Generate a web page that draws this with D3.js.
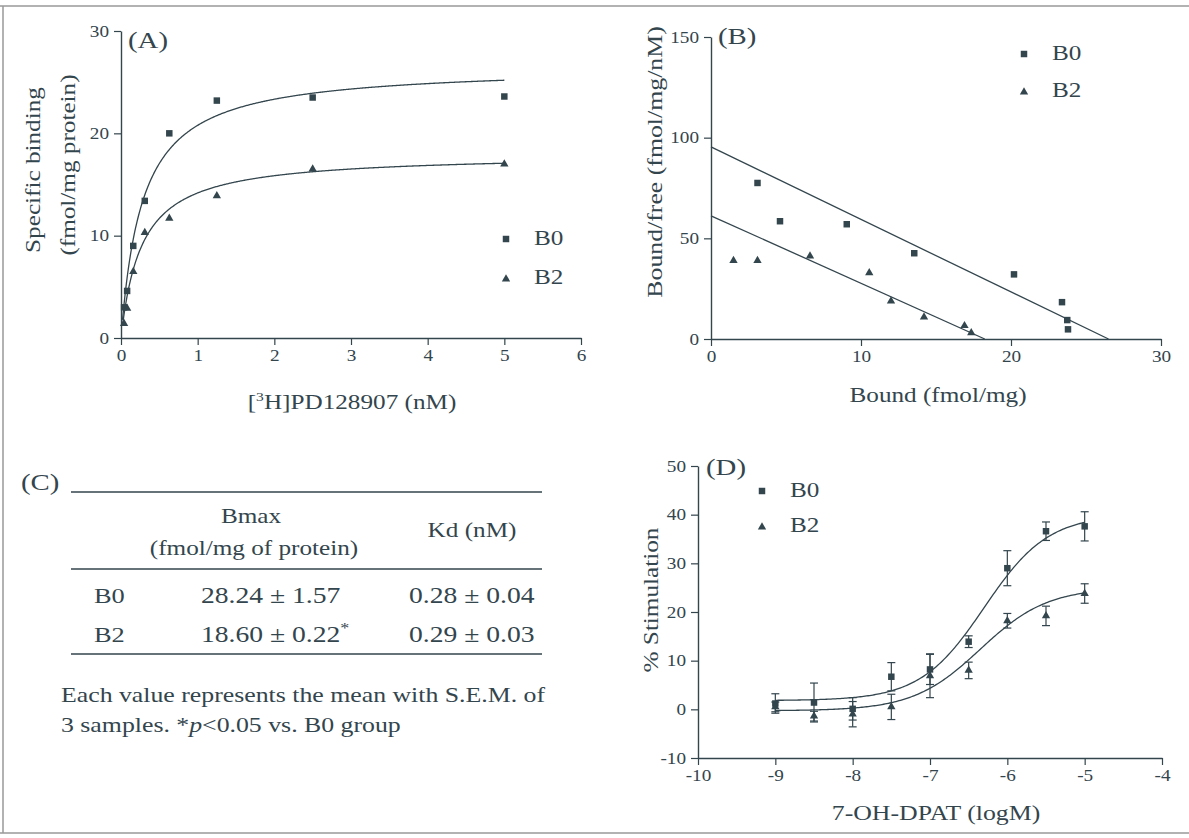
<!DOCTYPE html>
<html>
<head>
<meta charset="utf-8">
<script src="https://cdn.jsdelivr.net/npm/d3@7"></script>
<style>
  body { margin: 0; background: #fff; }
  svg { display: block; font-family: "Liberation Serif", "Times New Roman", serif; }
</style>
</head>
<body>
<script>
// ---------- data ----------

// (A) saturation binding, [3H]PD128907 (nM)
let concA = [0.04, 0.08, 0.16, 0.31, 0.63, 1.25, 2.5, 5];
let bindB0 = [3.0, 4.6, 9.0, 13.4, 20.0, 23.2, 23.5, 23.6];
let bindB2 = [1.4, 2.9, 6.5, 10.3, 11.7, 13.9, 16.5, 17.0];
// one-site fit curves: [Bmax, Kd]
let fitA_B0 = [26.6, 0.28];
let fitA_B2 = [18.0, 0.27];

// (B) Scatchard plot
let boundB0 = [3.1, 4.6, 9.05, 13.55, 20.2, 23.4, 23.75, 23.8];
let ratioB0 = [77.5, 58.5, 57.0, 42.6, 32.1, 18.3, 9.4, 4.8];
let boundB2 = [1.5, 3.1, 6.6, 10.55, 12.0, 14.2, 16.9, 17.35];
let ratioB2 = [39, 39, 41.2, 32.9, 18.8, 10.9, 6.6, 3.1];
// regression lines: [y-intercept, x-intercept]
let lineB0 = [95.4, 26.5];
let lineB2 = [61.2, 18.25];

// (C) table
let groups = ["B0", "B2"];
let bmaxText = ["28.24 ± 1.57", "18.60 ± 0.22"];
let bmaxStar = ["", "*"];
let kdText = ["0.28 ± 0.04", "0.29 ± 0.03"];

// (D) 7-OH-DPAT stimulation
let logDose = [-9, -8.5, -8, -7.5, -7, -6.5, -6, -5.5, -5];
let stimB0 = [1.2, 1.4, 0.1, 6.7, 8.2, 13.9, 29.0, 36.6, 37.6];
let semB0 = [2.0, 4.0, 2.3, 2.9, 3.1, 1.2, 3.6, 1.9, 3.0];
let stimB2 = [0.5, -1.4, -1.0, 0.5, 6.9, 8.0, 18.2, 19.2, 23.8];
let semB2 = [1.0, 1.0, 2.6, 2.6, 4.5, 1.7, 1.5, 2.0, 2.0];
// sigmoid fits: [bottom, top, logEC50, hill]
let fitD_B0 = [1.8, 40, -6.3, 1.05];
let fitD_B2 = [-0.3, 25, -6.35, 1.0];

// ---------- setup ----------
let width = 1189;
let height = 838;
let ink = "#33454d";
let SX = 1.2; // scanned type is wider than Times

let svg = d3
  .select("body")
  .append("svg")
  .attr("width", width)
  .attr("height", height)
  .style("background", "#fff");

// scan frame
svg.append("line").attr("x1", 0).attr("x2", width).attr("y1", 6).attr("y2", 6)
  .attr("stroke", "#999").attr("stroke-width", 1.5);
svg.append("line").attr("x1", 3).attr("x2", 3).attr("y1", 6).attr("y2", 833)
  .attr("stroke", "#999").attr("stroke-width", 1.5);
svg.append("line").attr("x1", 0).attr("x2", width).attr("y1", 833).attr("y2", 833)
  .attr("stroke", "#999").attr("stroke-width", 1.5);

function addText(x, y, str, size, anchor, rotate) {
  return svg
    .append("text")
    .attr("transform", `translate(${x},${y})` + (rotate ? " rotate(-90)" : "") + ` scale(${SX},1)`)
    .attr("text-anchor", anchor || "start")
    .attr("fill", ink)
    .style("font-size", size + "px")
    .text(str);
}

// plain integer labels with a hyphen minus, as in the print
let intFmt = (d) => String(d);

function styleAxis(g) {
  g.attr("font-family", null).attr("font-size", null);
  g.select(".domain").attr("stroke", ink).attr("stroke-width", 1.4);
  g.selectAll(".tick line").attr("stroke", ink).attr("stroke-width", 1.2);
  g.selectAll(".tick text")
    .attr("fill", ink)
    .style("font-size", "16px")
    .attr("transform", `scale(${SX},1)`);
}

let square = d3.symbol(d3.symbolSquare, 42);
let triangle = d3.symbol(d3.symbolTriangle, 30);

function drawPoints(xs, ys, sx, sy, sym) {
  svg
    .append("g")
    .selectAll("path")
    .data(xs)
    .join("path")
    .attr("d", sym)
    .attr("transform", (d, i) => `translate(${sx(d)},${sy(ys[i])})`)
    .attr("fill", ink);
}

function legend(x, y0, y1) {
  svg.append("path").attr("d", square).attr("transform", `translate(${x},${y0 - 6})`).attr("fill", ink);
  svg.append("path").attr("d", triangle).attr("transform", `translate(${x},${y1 - 5})`).attr("fill", ink);
  addText(x + 28, y0, "B0", 21);
  addText(x + 28, y1, "B2", 21);
}

// ---------- (A) ----------
let xA = d3.scaleLinear().domain([0, 6]).range([121, 581]);
let yA = d3.scaleLinear().domain([0, 30]).range([338, 31]);

svg.append("g")
  .attr("transform", "translate(0,338)")
  .call(d3.axisBottom(xA).tickValues(d3.range(0, 7)).tickFormat(intFmt).tickSize(7).tickSizeOuter(0).tickPadding(5))
  .call(styleAxis);
svg.append("g")
  .attr("transform", "translate(121,0)")
  .call(d3.axisLeft(yA).tickValues([0, 10, 20, 30]).tickFormat(intFmt).tickSize(7).tickSizeOuter(0).tickPadding(3))
  .call(styleAxis);

let curveX = d3.range(0.02, 5.001, 0.01);
let hyper = (p) => d3.line().x((d) => xA(d)).y((d) => yA((p[0] * d) / (p[1] + d)));
svg.append("path").attr("d", hyper(fitA_B0)(curveX)).attr("fill", "none").attr("stroke", ink).attr("stroke-width", 1.3);
svg.append("path").attr("d", hyper(fitA_B2)(curveX)).attr("fill", "none").attr("stroke", ink).attr("stroke-width", 1.3);

drawPoints(concA, bindB0, xA, yA, square);
drawPoints(concA, bindB2, xA, yA, triangle);
legend(506, 245, 284);

addText(128, 48, "(A)", 24);
addText(40, 170, "Specific binding", 21, "middle", true);
addText(75, 165, "(fmol/mg protein)", 21, "middle", true);
let xlabA = addText(352, 409, "", 21, "middle");
xlabA.append("tspan").text("[");
xlabA.append("tspan").attr("dy", -8).style("font-size", "13px").text("3");
xlabA.append("tspan").attr("dy", 8).text("H]PD128907 (nM)");

// ---------- (B) ----------
let xB = d3.scaleLinear().domain([0, 30]).range([711, 1161]);
let yB = d3.scaleLinear().domain([0, 150]).range([339, 37]);

svg.append("g")
  .attr("transform", "translate(0,339)")
  .call(d3.axisBottom(xB).tickValues([0, 10, 20, 30]).tickFormat(intFmt).tickSize(7).tickSizeOuter(0).tickPadding(5))
  .call(styleAxis);
svg.append("g")
  .attr("transform", "translate(711,0)")
  .call(d3.axisLeft(yB).tickValues([0, 50, 100, 150]).tickFormat(intFmt).tickSize(7).tickSizeOuter(0).tickPadding(3))
  .call(styleAxis);

let straight = d3.line().x((d) => xB(d[0])).y((d) => yB(d[1]));
svg.append("path").attr("d", straight([[0, lineB0[0]], [lineB0[1], 0]])).attr("stroke", ink).attr("stroke-width", 1.3);
svg.append("path").attr("d", straight([[0, lineB2[0]], [lineB2[1], 0]])).attr("stroke", ink).attr("stroke-width", 1.3);

drawPoints(boundB0, ratioB0, xB, yB, square);
drawPoints(boundB2, ratioB2, xB, yB, triangle);
legend(1024, 60, 97);

addText(718, 44, "(B)", 24);
addText(662, 162, "Bound/free (fmol/mg/nM)", 21.5, "middle", true);
addText(938, 402, "Bound (fmol/mg)", 21, "middle");

// ---------- (C) table ----------
let tableL = 71, tableR = 542;
[492, 569, 654].forEach((y) => {
  svg.append("line").attr("x1", tableL).attr("x2", tableR).attr("y1", y).attr("y2", y)
    .attr("stroke", ink).attr("stroke-width", 1.4);
});
addText(21, 490, "(C)", 24);
addText(251, 523, "Bmax", 21, "middle");
addText(254, 555, "(fmol/mg of protein)", 21, "middle");
addText(472, 537, "Kd (nM)", 21, "middle");
groups.forEach((g, i) => {
  let y = 603 + i * 39;
  addText(94, y, g, 22);
  let t = addText(201, y, bmaxText[i], 23);
  t.append("tspan").attr("dy", -9).style("font-size", "15px").text(bmaxStar[i]);
  addText(409, y, kdText[i], 23);
});
addText(61, 702, "Each value represents the mean with S.E.M. of", 21.5);
let note = addText(61, 732, "3 samples. *", 21.5);
note.append("tspan").style("font-style", "italic").text("p");
note.append("tspan").text("<0.05 vs. B0 group");

// ---------- (D) ----------
let xD = d3.scaleLinear().domain([-10, -4]).range([698, 1162]);
let yD = d3.scaleLinear().domain([-10, 50]).range([758, 466]);

svg.append("g")
  .attr("transform", "translate(0,758)")
  .call(d3.axisBottom(xD).tickValues(d3.range(-10, -3)).tickFormat(intFmt).tickSize(7).tickSizeOuter(0).tickPadding(5))
  .call(styleAxis);
svg.append("g")
  .attr("transform", "translate(698,0)")
  .call(d3.axisLeft(yD).tickValues(d3.range(-10, 51, 10)).tickFormat(intFmt).tickSize(7).tickSizeOuter(0).tickPadding(3))
  .call(styleAxis);

let doseX = d3.range(-9, -4.999, 0.02);
let sigmoid = (p) =>
  d3.line().x((d) => xD(d)).y((d) => yD(p[0] + (p[1] - p[0]) / (1 + Math.pow(10, (p[2] - d) * p[3]))));
svg.append("path").attr("d", sigmoid(fitD_B0)(doseX)).attr("fill", "none").attr("stroke", ink).attr("stroke-width", 1.3);
svg.append("path").attr("d", sigmoid(fitD_B2)(doseX)).attr("fill", "none").attr("stroke", ink).attr("stroke-width", 1.3);

function errorBars(ys, sems) {
  let g = svg.append("g").attr("stroke", ink).attr("stroke-width", 1.2);
  logDose.forEach((d, i) => {
    let x = xD(d), lo = yD(ys[i] - sems[i]), hi = yD(ys[i] + sems[i]);
    g.append("line").attr("x1", x).attr("x2", x).attr("y1", lo).attr("y2", hi);
    g.append("line").attr("x1", x - 4).attr("x2", x + 4).attr("y1", lo).attr("y2", lo);
    g.append("line").attr("x1", x - 4).attr("x2", x + 4).attr("y1", hi).attr("y2", hi);
  });
}
errorBars(stimB0, semB0);
errorBars(stimB2, semB2);
drawPoints(logDose, stimB0, xD, yD, square);
drawPoints(logDose, stimB2, xD, yD, triangle);
legend(762, 497, 532);

addText(706, 475, "(D)", 24);
addText(658, 600, "% Stimulation", 21, "middle", true);
addText(936, 820, "7-OH-DPAT (logM)", 21.5, "middle");
</script>
</body>
</html>
